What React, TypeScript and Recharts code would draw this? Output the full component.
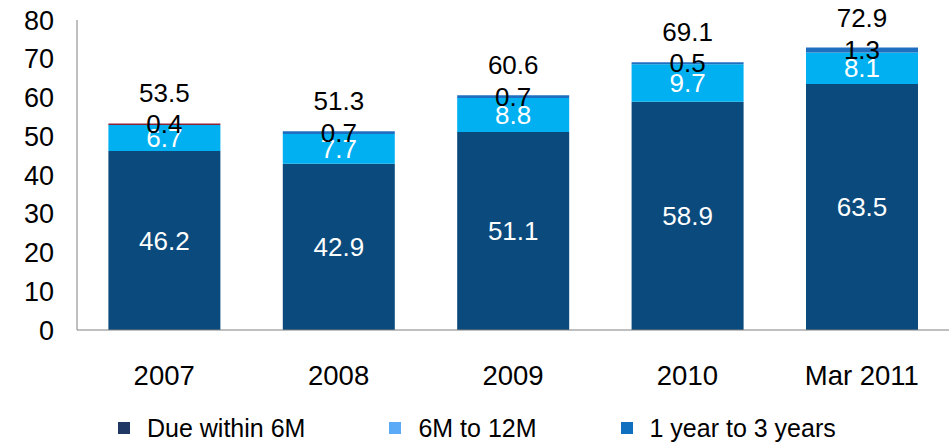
import { Bar, BarChart, Cell, LabelList, Legend, XAxis, YAxis } from "recharts";

const categories = ["2007", "2008", "2009", "2010", "Mar 2011"];
const dueWithin6M = [46.2, 42.9, 51.1, 58.9, 63.5];
const sixTo12M = [6.7, 7.7, 8.8, 9.7, 8.1];
const oneTo3Years = [0.4, 0.7, 0.7, 0.5, 1.3];
const totals = [53.5, 51.3, 60.6, 69.1, 72.9];
const yTicks = [0, 10, 20, 30, 40, 50, 60, 70, 80];

const seriesNames = ["Due within 6M", "6M to 12M", "1 year to 3 years"];
const legendColors = ["#203864", "#5AAAF8", "#1070C0"];
const topColors = ["#8E2237", "#1F6FC0", "#1F6FC0", "#1F6FC0", "#1F6FC0"];

const FONT = '"Liberation Sans", Arial, sans-serif';

const data = categories.map((name, i) => ({
  name,
  due: dueWithin6M[i],
  mid: sixTo12M[i],
  long: oneTo3Years[i],
  total: totals[i],
}));

function TotalLabel(props: any) {
  const { x, y, width, index } = props;
  return (
    <text
      x={x + width / 2}
      y={y - 30}
      textAnchor="middle"
      dominantBaseline="central"
      fill="#000"
      fontSize={26}
      fontFamily={FONT}
    >
      {totals[index]}
    </text>
  );
}

function LegendContent() {
  return (
    <div
      style={{
        display: "flex",
        alignItems: "center",
        height: 28,
        paddingLeft: 118,
        fontFamily: FONT,
        fontSize: 25,
        color: "#000",
      }}
    >
      {seriesNames.map((n, i) => (
        <div
          key={n}
          style={{ display: "flex", alignItems: "center", marginRight: 84 }}
        >
          <span
            style={{
              width: 12,
              height: 12,
              background: legendColors[i],
              marginRight: 17,
              display: "inline-block",
            }}
          />
          <span>{n}</span>
        </div>
      ))}
    </div>
  );
}

export default function App() {
  return (
    <div style={{ position: "absolute", left: 0, top: 0, background: "#fff" }}>
      <BarChart
        width={951}
        height={442}
        data={data}
        margin={{ top: 20, right: 2, bottom: 0, left: 0 }}
        barCategoryGap="18%"
      >
        <XAxis
          dataKey="name"
          height={84}
          tickLine={false}
          tickMargin={29}
          axisLine={{ stroke: "#808080" }}
          tick={{ fill: "#000", fontSize: 27.5, fontFamily: FONT }}
        />
        <YAxis
          width={77}
          domain={[0, 80]}
          ticks={yTicks}
          tickLine={false}
          tickMargin={17}
          axisLine={{ stroke: "#808080" }}
          tick={{ fill: "#000", fontSize: 27, fontFamily: FONT }}
        />
        <Legend verticalAlign="bottom" content={<LegendContent />} />
        <Bar dataKey="due" stackId="a" fill="#0B4A7C" isAnimationActive={false}>
          <LabelList
            dataKey="due"
            position="center"
            fill="#fff"
            fontSize={26}
            fontFamily={FONT}
          />
        </Bar>
        <Bar dataKey="mid" stackId="a" fill="#00B0F0" isAnimationActive={false}>
          <LabelList
            dataKey="mid"
            position="center"
            fill="#fff"
            fontSize={26}
            fontFamily={FONT}
          />
        </Bar>
        <Bar dataKey="long" stackId="a" fill="#1F6FC0" isAnimationActive={false}>
          {data.map((d, i) => (
            <Cell key={d.name} fill={topColors[i]} />
          ))}
          <LabelList
            dataKey="long"
            position="center"
            fill="#000"
            fontSize={26}
            fontFamily={FONT}
          />
          <LabelList dataKey="total" content={<TotalLabel />} />
        </Bar>
      </BarChart>
    </div>
  );
}
